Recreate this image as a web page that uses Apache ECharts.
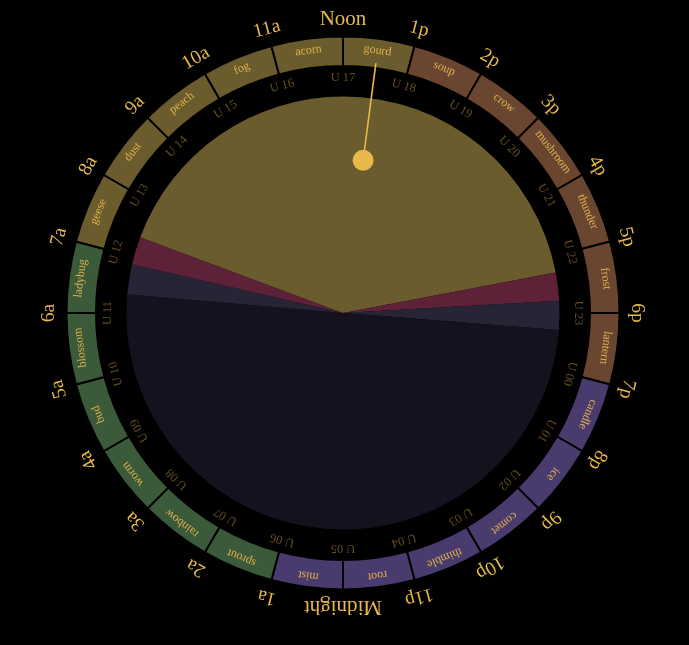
<!DOCTYPE html>
<html>
<head>
<meta charset="utf-8">
<script src="https://cdn.jsdelivr.net/npm/echarts@6/dist/echarts.min.js"></script>
<style>
html,body{margin:0;padding:0;background:#000;}
#chart{width:689px;height:645px;}
</style>
</head>
<body>
<div id="chart"></div>
<script>
// ---- data ----
const hourLabels = ['Noon','1p','2p','3p','4p','5p','6p','7p','8p','9p','10p','11p',
  'Midnight','1a','2a','3a','4a','5a','6a','7a','8a','9a','10a','11a'];
const utcLabels = ['U 17','U 18','U 19','U 20','U 21','U 22','U 23','U 00','U 01','U 02','U 03','U 04',
  'U 05','U 06','U 07','U 08','U 09','U 10','U 11','U 12','U 13','U 14','U 15','U 16'];
const segmentNames = ['gourd','soup','crow','mushroom','thunder','frost','lantern','candle','ice','comet','thimble','root',
  'mist','sprout','rainbow','worm','bud','blossom','ladybug','geese','dust','peach','fog','acorn'];
const segmentBands = ['morning','afternoon','afternoon','afternoon','afternoon','afternoon','afternoon',
  'evening','evening','evening','evening','evening','evening',
  'small','small','small','small','small','small',
  'morning','morning','morning','morning','morning'];
const phaseNames = ['day','civil dusk','nautical dusk','night','nautical dawn','civil dawn','day'];
const phaseEnds = ['17:17','17:47','18:18','06:20','06:52','07:22','12:00']; // from noon, clockwise
const nowTime = '12:30';

// ---- styles ----
const GOLD = '#e8b84a';
const bandColors = {morning:'#6b5c2d', afternoon:'#6a4630', evening:'#4a3b6f', small:'#3b5a39'};
const phaseColors = {'day':'#6b5c2d','civil dusk':'#5e2238','nautical dusk':'#272535','night':'#15121f',
  'nautical dawn':'#272535','civil dawn':'#5e2238'};
const FONT = 'Liberation Serif';
const CENTER = [343, 313];

function toMin(t){ const p = t.split(':'); return (+p[0])*60 + (+p[1]); }
let prev = toMin('12:00');
const phaseData = phaseEnds.map((t, i) => {
  let m = toMin(t); let d = m - prev; if (d <= 0) d += 1440; prev = m;
  return {name: phaseNames[i], value: d, itemStyle:{color: phaseColors[phaseNames[i]]}};
});
const nowH = toMin(nowTime) / 60;

const ringData = segmentNames.map((n, i) => ({
  name: n, value: 1,
  itemStyle: {color: bandColors[segmentBands[i]]},
  label: {rotate: -(7.5 + 15 * i)}
}));
const utcData = utcLabels.map((n, i) => ({name: n, value: 1, label: {rotate: -15 * i}}));
const hourData = hourLabels.map((n, i) => ({
  name: n, value: 1,
  label: {rotate: -15 * i, fontSize: (n === 'Noon' || n === 'Midnight') ? 21 : 19.5}
}));

const common = {type:'pie', center: CENTER, startAngle: 90, clockwise: true, silent: true,
  emphasis:{disabled:true, scale:false}, labelLine:{show:false}, animation:false};

const chart = echarts.init(document.getElementById('chart'), null, {renderer:'canvas'});
chart.setOption({
  backgroundColor: '#000',
  animation: false,
  polar: {center: CENTER, radius: [0, 276]},
  angleAxis: {type:'value', min:0, max:24, startAngle:270, clockwise:true, show:false,
    axisLine:{show:false}, splitLine:{show:false}, axisLabel:{show:false}, axisTick:{show:false}},
  radiusAxis: {type:'value', min:0, max:276, show:false,
    axisLine:{show:false}, splitLine:{show:false}, axisLabel:{show:false}, axisTick:{show:false}},
  series: [
    Object.assign({}, common, {
      name:'sun', radius:[0, 216.5], data: phaseData, label:{show:false}, z:1
    }),
    Object.assign({}, common, {
      name:'utc', radius:[217, 247], startAngle: 97.5, data: utcData,
      itemStyle:{color:'rgba(0,0,0,0)'},
      label:{show:true, position:'inside', color:'rgba(232,184,74,0.42)', fontFamily:FONT, fontSize:12.5}, z:2
    }),
    Object.assign({}, common, {
      name:'segments', radius:[247, 276.5], data: ringData,
      itemStyle:{borderColor:'#000', borderWidth:2},
      label:{show:true, position:'inside', color:'#e0b04c', fontFamily:FONT, fontSize:12}, z:2
    }),
    Object.assign({}, common, {
      name:'hours', radius:[280, 302], startAngle: 97.5, data: hourData,
      itemStyle:{color:'rgba(0,0,0,0)'},
      label:{show:true, position:'inside', color:GOLD, fontFamily:FONT}, z:2
    }),
    {
      type:'line', coordinateSystem:'polar', data:[[154, nowH],[252, nowH]],
      symbol:'none', lineStyle:{color:GOLD, width:1.6}, silent:true, z:5, animation:false
    },
    {
      type:'scatter', coordinateSystem:'polar', data:[[154, nowH]],
      symbolSize:21, itemStyle:{color:GOLD, opacity:1}, silent:true, z:6, animation:false
    }
  ]
});
</script>
</body>
</html>
